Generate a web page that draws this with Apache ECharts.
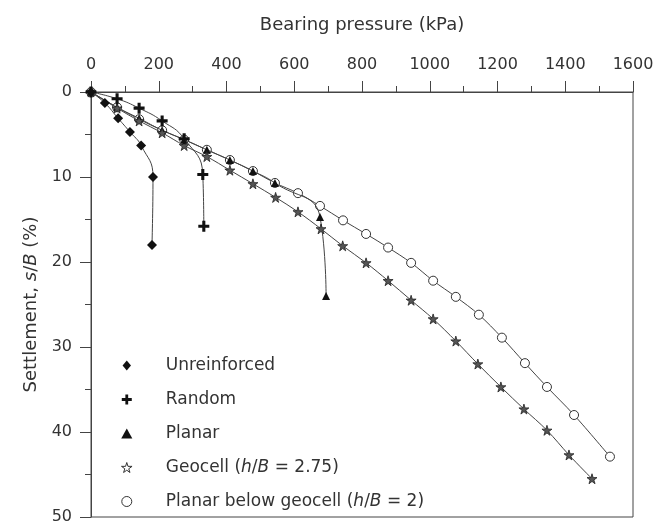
<!DOCTYPE html>
<html>
<head>
<meta charset="utf-8">
<script src="https://cdn.jsdelivr.net/npm/echarts@6/dist/echarts.min.js"></script>
<style>
html,body{margin:0;padding:0;background:#fff;}
#chart{width:665px;height:525px;}
</style>
</head>
<body>
<div id="chart"></div>
<script>
// Bearing pressure (kPa), settlement s/B (%)
const unreinforced = [[0,0],[41,1.3],[80,3.1],[115,4.7],[148,6.3],[183,10],[180,18]];
const random = [[0,0],[77,0.8],[142,1.9],[210,3.4],[275,5.5],[330,9.7],[333,15.8]];
const planar = [[0,0],[77,1.8],[142,3.1],[210,4.5],[275,5.6],[342,6.8],[410,8.0],[478,9.3],[543,10.7],[676,14.7],[694,24]];
const geocell = [[0,0],[77,1.9],[142,3.4],[210,4.8],[275,6.3],[342,7.6],[410,9.2],[478,10.8],[545,12.4],[611,14.1],[679,16.1],[743,18.1],[812,20.1],[877,22.2],[945,24.5],[1010,26.7],[1077,29.3],[1142,32.0],[1210,34.7],[1278,37.3],[1346,39.8],[1411,42.7],[1479,45.5]];
const planarBelowGeocell = [[0,0],[77,1.8],[142,3.2],[210,4.5],[275,5.6],[342,6.8],[410,8.0],[478,9.3],[543,10.7],[611,11.9],[676,13.4],[744,15.1],[812,16.7],[877,18.3],[945,20.1],[1010,22.2],[1077,24.1],[1145,26.2],[1213,28.9],[1281,31.9],[1346,34.7],[1426,38.0],[1532,42.9]];
const seriesNames = ['Unreinforced','Random','Planar','Geocell (h/B = 2.75)','Planar below geocell (h/B = 2)'];
const xTicks = {min:0, max:1600, interval:200};
const yTicks = {min:0, max:50, interval:10};

const FONT = 'DejaVu Sans';
const TXT = '#333';
const LINE = '#444';
const STAR = 'path://M50,0 L61,35 L98,35 L68,57 L79,91 L50,70 L21,91 L32,57 L2,35 L39,35 Z';
const PLUS = 'path://M36,0 H64 V36 H100 V64 H64 V100 H36 V64 H0 V36 H36 Z';
const DIAMOND = 'path://M50,0 L92,50 L50,100 L8,50 Z';
const TRIANGLE = 'path://M50,0 L100,90 L0,90 Z';

function mk(name, data, symbol, size, itemStyle, z, smooth) {
  return {
    name, type:'line', data, smooth:smooth||0.35, symbol, symbolSize:size,
    showAllSymbol:true, z:z||2,
    lineStyle:{color:LINE, width:1},
    itemStyle,
    emphasis:{disabled:true}
  };
}

const chart = echarts.init(document.getElementById('chart'));
chart.setOption({
  animation:false,
  backgroundColor:'#fff',
  textStyle:{fontFamily:FONT},
  grid:{left:91, right:32, top:92, bottom:8, show:true, borderColor:'#444', borderWidth:1, backgroundColor:'transparent'},
  xAxis:{
    type:'value', position:'top', min:xTicks.min, max:xTicks.max, interval:xTicks.interval,
    name:'Bearing pressure (kPa)', nameLocation:'middle', nameGap:58,
    nameTextStyle:{fontFamily:FONT, fontSize:18, color:TXT},
    axisLine:{show:true, lineStyle:{color:'#444', width:1}},
    axisTick:{show:true, inside:false, length:11, lineStyle:{color:'#444'}},
    minorTick:{show:true, splitNumber:2, length:6, lineStyle:{color:'#444'}},
    axisLabel:{fontFamily:FONT, fontSize:16, color:TXT, margin:19, formatter:function(v){return String(v);}},
    splitLine:{show:false}
  },
  yAxis:{
    type:'value', inverse:true, min:yTicks.min, max:yTicks.max, interval:yTicks.interval,
    name:'{n|Settlement, }{i|s}{n|/}{i|B}{n| (%)}', nameLocation:'middle', nameGap:42, nameRotate:90,
    nameTextStyle:{rich:{
      n:{fontFamily:FONT, fontSize:18, color:TXT},
      i:{fontFamily:FONT, fontSize:18, color:TXT, fontStyle:'italic'}
    }},
    axisLine:{show:true, lineStyle:{color:'#444', width:1}},
    axisTick:{show:true, inside:false, length:11, lineStyle:{color:'#444'}},
    minorTick:{show:true, splitNumber:2, length:6, lineStyle:{color:'#444'}},
    axisLabel:{fontFamily:FONT, fontSize:16, color:TXT, margin:19, formatter:function(v){return String(v);}},
    splitLine:{show:false}
  },
  legend:{
    orient:'vertical', left:121, top:357, padding:0,
    itemWidth:68, itemHeight:10, itemGap:17,
    selectedMode:false,
    textStyle:{fontFamily:FONT, fontSize:17, color:TXT, lineHeight:17,
      rich:{
        n:{fontFamily:FONT, fontSize:17, color:TXT},
        i:{fontFamily:FONT, fontSize:17, color:TXT, fontStyle:'italic'}
      }},
    formatter:function(name){
      return name.replace(/h\/B/, '{i|h}/{i|B}');
    },
    data:[
      {name:seriesNames[0], icon:DIAMOND, itemStyle:{color:'#111', borderWidth:0}},
      {name:seriesNames[1], icon:PLUS, itemStyle:{color:'#111', borderWidth:0}},
      {name:seriesNames[2], icon:TRIANGLE, itemStyle:{color:'#111', borderWidth:0}},
      {name:seriesNames[3], icon:STAR, itemStyle:{color:'#fff', borderColor:'#333', borderWidth:1}},
      {name:seriesNames[4], icon:'circle', itemStyle:{color:'#fff', borderColor:'#333', borderWidth:1}}
    ]
  },
  series:[
    mk(seriesNames[4], planarBelowGeocell, 'circle', 9, {color:'#fff', borderColor:'#333', borderWidth:1}, 2),
    mk(seriesNames[2], planar, TRIANGLE, 8, {color:'#111', borderWidth:0}, 3, 0.5),
    mk(seriesNames[3], geocell, STAR, 10, {color:'#555', borderColor:'#222', borderWidth:0.8}, 4),
    mk(seriesNames[1], random, PLUS, 11, {color:'#111', borderWidth:0}, 5, 0.5),
    mk(seriesNames[0], unreinforced, DIAMOND, 10, {color:'#111', borderWidth:0}, 6, 0.5)
  ]
});
</script>
</body>
</html>
